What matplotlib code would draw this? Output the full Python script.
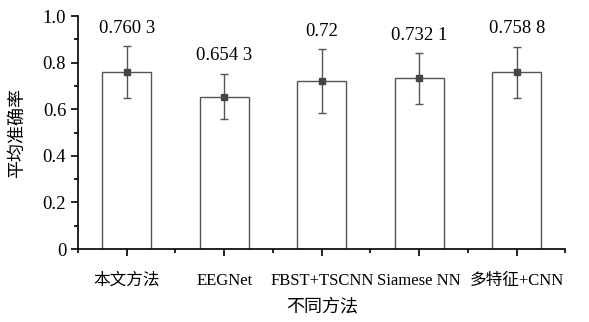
import numpy as np
import matplotlib
matplotlib.use('Agg')
from matplotlib import pyplot as plt
from matplotlib.ticker import MultipleLocator

plt.rcParams['font.family'] = ['Liberation Serif', 'Noto Sans CJK SC']

# data
methods = ['本文方法', 'EEGNet', 'FBST+TSCNN', 'Siamese NN', '多特征+CNN']
acc = [0.7603, 0.6543, 0.72, 0.7321, 0.7588]
err = [0.11, 0.098, 0.137, 0.11, 0.11]
labels = ['0.760 3', '0.654 3', '0.72', '0.732 1', '0.758 8']

fig = plt.figure(figsize=(5.89, 3.22), dpi=100)
ax = fig.add_axes([0.1324, 0.2267, 0.8276, 0.7233])

x = np.arange(len(methods))
ax.bar(x, acc, width=0.5, color='white', edgecolor='#555555', linewidth=1.0)
ax.errorbar(x, acc, yerr=err, fmt='s', color='#444444', ecolor='#555555',
            markersize=5, elinewidth=1.0, capsize=3, capthick=1.0)

for xi, a, e, t in zip(x, acc, err, labels):
    ax.text(xi, a + e + 0.04, t, ha='center', va='bottom', fontsize=13.5)

ax.set_xlim(-0.5, 4.5)
ax.set_ylim(0, 1.0)
ax.set_xticks(x)
ax.set_xticklabels(methods, fontsize=12)
ax.xaxis.set_minor_locator(MultipleLocator(0.5))
ax.set_yticks([0, 0.2, 0.4, 0.6, 0.8, 1.0])
ax.set_yticklabels(['0', '0.2', '0.4', '0.6', '0.8', '1.0'], fontsize=13.5)
ax.yaxis.set_minor_locator(MultipleLocator(0.1))

ax.spines['top'].set_visible(False)
ax.spines['right'].set_visible(False)
for s in ['left', 'bottom']:
    ax.spines[s].set_linewidth(1.2)
ax.tick_params(axis='both', which='major', direction='out', length=5, width=1.2)
ax.tick_params(axis='both', which='minor', direction='out', length=3, width=1.2)
ax.tick_params(axis='x', pad=12)

ax.set_xlabel('不同方法', fontsize=13, labelpad=7)
ax.set_ylabel('平均准确率', fontsize=13, labelpad=12)

fig.savefig('out.png', dpi=100)
